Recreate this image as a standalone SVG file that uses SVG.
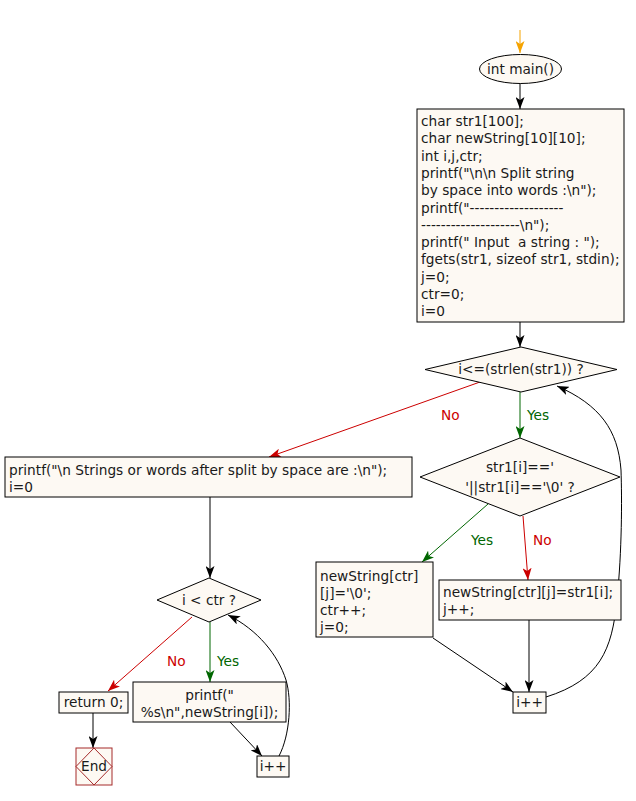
<svg xmlns="http://www.w3.org/2000/svg" width="636" height="801" viewBox="0 0 636 801">
<defs>
<style>
.n{fill:#fdf9f3;stroke:#000;stroke-width:1}
.t{font-family:"DejaVu Sans",sans-serif;font-size:13.7px;fill:#1a1a1a;white-space:pre}
.c{text-anchor:middle}
.e{fill:none;stroke:#000;stroke-width:1}
.r{fill:none;stroke:#cc0000;stroke-width:1}
.g{fill:none;stroke:#006600;stroke-width:1}
.lr{font-family:"DejaVu Sans",sans-serif;font-size:13.7px;fill:#cc0000}
.lg{font-family:"DejaVu Sans",sans-serif;font-size:13.7px;fill:#006600}
</style>
<marker id="ab" markerWidth="13" markerHeight="9" refX="12" refY="4.5" orient="auto" markerUnits="userSpaceOnUse"><path d="M0,0 L12,4.5 L0,9 L3,4.5 z" fill="#000"/></marker>
<marker id="ar" markerWidth="13" markerHeight="9" refX="12" refY="4.5" orient="auto" markerUnits="userSpaceOnUse"><path d="M0,0 L12,4.5 L0,9 L3,4.5 z" fill="#cc0000"/></marker>
<marker id="ag" markerWidth="13" markerHeight="9" refX="12" refY="4.5" orient="auto" markerUnits="userSpaceOnUse"><path d="M0,0 L12,4.5 L0,9 L3,4.5 z" fill="#006600"/></marker>
<marker id="ao" markerWidth="13" markerHeight="9" refX="12" refY="4.5" orient="auto" markerUnits="userSpaceOnUse"><path d="M0,0 L12,4.5 L0,9 L3,4.5 z" fill="#f5a300"/></marker>
</defs>
<g id="connectors">
<line x1="520" y1="30" x2="520" y2="53" stroke="#f5a300" stroke-width="1" marker-end="url(#ao)"/>
<line class="e" x1="520" y1="83" x2="520" y2="109" marker-end="url(#ab)"/>
<line class="e" x1="520" y1="322" x2="520" y2="347" marker-end="url(#ab)"/>
<line class="g" x1="520" y1="392" x2="520" y2="438" marker-end="url(#ag)"/>
<text class="lg" x="527" y="420">Yes</text>
<line class="r" x1="480" y1="382" x2="269" y2="457" marker-end="url(#ar)"/>
<text class="lr" x="441" y="420">No</text>
<line class="g" x1="488" y1="504" x2="422" y2="562" marker-end="url(#ag)"/>
<text class="lg" x="471" y="545">Yes</text>
<line class="r" x1="523" y1="516" x2="528" y2="580" marker-end="url(#ar)"/>
<text class="lr" x="533" y="545">No</text>
<line class="e" x1="529" y1="620" x2="529" y2="692" marker-end="url(#ab)"/>
<line class="e" x1="433" y1="638" x2="513" y2="692" marker-end="url(#ab)"/>
<path class="e" d="M546,697 C600,680 612,650 617,600 C622,550 622,500 621,470 C618,430 600,405 557,386" marker-end="url(#ab)"/>
<line class="e" x1="210" y1="497" x2="210" y2="578" marker-end="url(#ab)"/>
<line class="g" x1="210" y1="622" x2="210" y2="682" marker-end="url(#ag)"/>
<text class="lg" x="217" y="666">Yes</text>
<line class="r" x1="192" y1="617" x2="108" y2="691" marker-end="url(#ar)"/>
<text class="lr" x="167" y="666">No</text>
<line class="e" x1="93" y1="713" x2="93" y2="748" marker-end="url(#ab)"/>
<line class="e" x1="230" y1="722" x2="262" y2="756" marker-end="url(#ab)"/>
<path class="e" d="M279,756 C290,735 292,700 286,680 C278,655 258,630 228,615" marker-end="url(#ab)"/>
</g>
<g id="start">
<ellipse class="n" cx="520.5" cy="69" rx="41" ry="14.5"/>
<text class="t c" x="520.5" y="74">int main()</text>
</g>
<g id="init">
<rect class="n" x="417" y="109" width="207" height="213"/>
<text class="t" x="421" y="126">char str1[100];</text>
<text class="t" x="421" y="143.3">char newString[10][10];</text>
<text class="t" x="421" y="160.6">int i,j,ctr;</text>
<text class="t" x="421" y="177.9">printf("\n\n Split string</text>
<text class="t" x="421" y="195.2">by space into words :\n");</text>
<text class="t" x="421" y="212.5">printf("-------------------</text>
<text class="t" x="421" y="229.8">--------------------\n");</text>
<text class="t" x="421" y="247.1">printf(" Input  a string : ");</text>
<text class="t" x="421" y="264.4">fgets(str1, sizeof str1, stdin);</text>
<text class="t" x="421" y="281.7">j=0;</text>
<text class="t" x="421" y="299">ctr=0;</text>
<text class="t" x="421" y="316.3">i=0</text>
</g>
<g id="cond1">
<polygon class="n" points="521,347 617,369.5 521,392 425,369.5"/>
<text class="t c" x="521" y="374">i&lt;=(strlen(str1)) ?</text>
</g>
<g id="cond2">
<polygon class="n" points="520,438 620,477 520,516 420,477"/>
<text class="t c" x="520" y="472">str1[i]=='</text>
<text class="t c" x="520" y="492">'||str1[i]=='\0' ?</text>
</g>
<g id="split">
<rect class="n" x="316" y="562" width="117" height="75"/>
<text class="t" x="320" y="581">newString[ctr]</text>
<text class="t" x="320" y="598">[j]='\0';</text>
<text class="t" x="320" y="615">ctr++;</text>
<text class="t" x="320" y="632">j=0;</text>
</g>
<g id="copy">
<rect class="n" x="439" y="580" width="182" height="40"/>
<text class="t" x="443" y="597">newString[ctr][j]=str1[i];</text>
<text class="t" x="443" y="614">j++;</text>
</g>
<g id="inc1">
<rect class="n" x="513" y="692" width="33" height="21"/>
<text class="t c" x="529.5" y="707">i++</text>
</g>
<g id="print1">
<rect class="n" x="5" y="457" width="407" height="40"/>
<text class="t" x="9" y="475">printf("\n Strings or words after split by space are :\n");</text>
<text class="t" x="9" y="492">i=0</text>
</g>
<g id="cond3">
<polygon class="n" points="209,578 261,600 209,622 157,600"/>
<text class="t c" x="209" y="605">i &lt; ctr ?</text>
</g>
<g id="print2">
<rect class="n" x="133" y="682" width="153" height="40"/>
<text class="t c" x="209.5" y="700">printf("</text>
<text class="t c" x="209.5" y="717">%s\n",newString[i]);</text>
</g>
<g id="inc2">
<rect class="n" x="257" y="756" width="32" height="21"/>
<text class="t c" x="273" y="771">i++</text>
</g>
<g id="ret">
<rect class="n" x="59" y="692" width="69" height="21"/>
<text class="t c" x="93.5" y="707">return 0;</text>
</g>
<g id="end">
<rect x="76" y="748" width="36" height="37" fill="#fdf9f3" stroke="#a52a2a" stroke-width="1"/>
<polygon points="94,748 112,766.5 94,785 76,766.5" fill="none" stroke="#a52a2a" stroke-width="1"/>
<text class="t c" x="94" y="771">End</text>
</g>
</svg>
